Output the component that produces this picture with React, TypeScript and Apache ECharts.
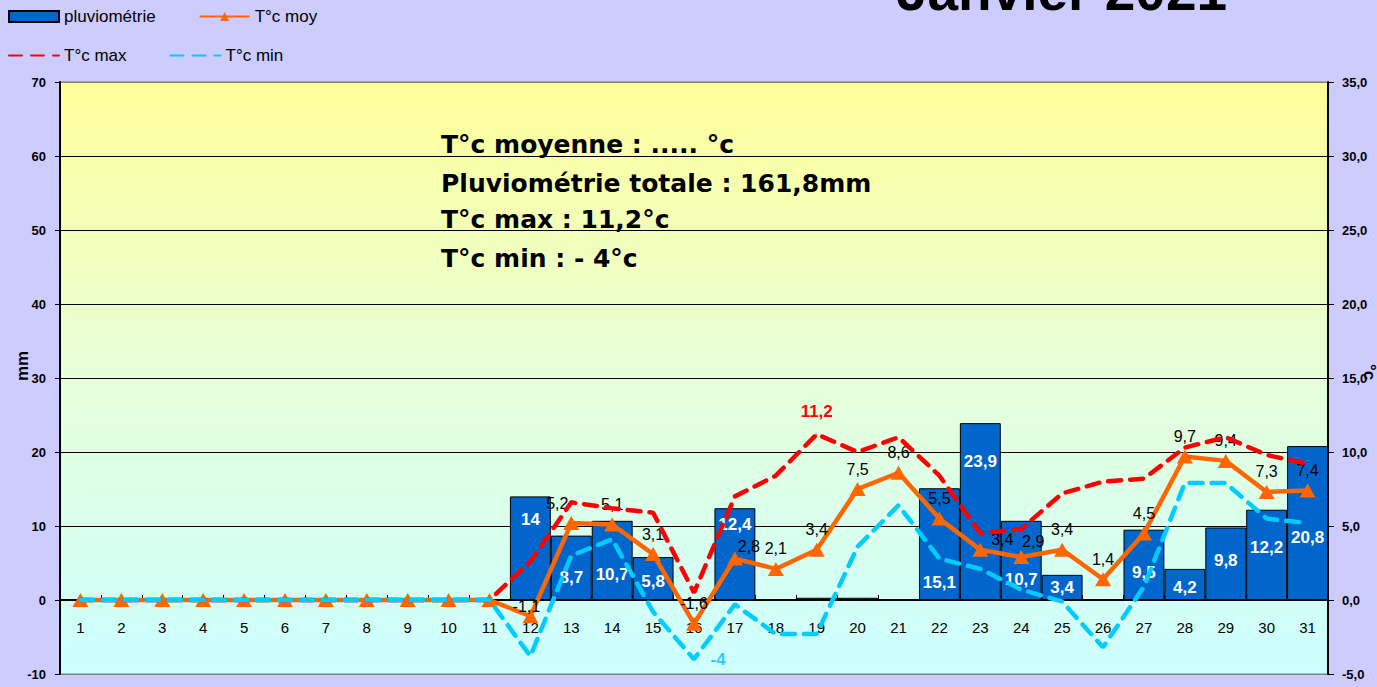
import React, { useEffect, useRef } from "react";
import * as echarts from "echarts";

const days = ["1","2","3","4","5","6","7","8","9","10","11","12","13","14","15","16","17","18","19","20","21","22","23","24","25","26","27","28","29","30","31"];
const rain = [0,0,0,0,0,0,0,0,0,0,0,14,8.7,10.7,5.8,0,12.4,0,0.3,0.3,0,15.1,23.9,10.7,3.4,0,9.5,4.2,9.8,12.2,20.8];
const tMoy = [0,0,0,0,0,0,0,0,0,0,0,-1.1,5.2,5.1,3.1,-1.6,2.8,2.1,3.4,7.5,8.6,5.5,3.4,2.9,3.4,1.4,4.5,9.7,9.4,7.3,7.4];
const tMax = [0,0,0,0,0,0,0,0,0,0,0,2.6,6.6,6.2,5.9,0.5,7.0,8.4,11.2,10.0,11.0,8.4,4.5,4.8,7.2,8.0,8.2,10.3,11.0,9.8,9.2];
const tMin = [0,0,0,0,0,0,0,0,0,0,0,-3.8,3.0,4.1,-0.8,-4.0,-0.3,-2.3,-2.3,3.6,6.4,2.8,2.1,0.7,-0.1,-3.2,0.9,7.9,7.9,5.5,5.2];
const mmTicks = { min: -10, max: 70, interval: 10 };
const degTicks = { min: -5, max: 35, interval: 5 };
const infoLines = [
  "T°c moyenne : ..... °c",
  "Pluviométrie totale : 161,8mm",
  "T°c max : 11,2°c",
  "T°c min : - 4°c",
];
const title = "Janvier 2021";
const leftAxisName = "mm";
const rightAxisName = "°c";

// label lift (px above bar base) for the rain labels — style only
const rainLabelLift: Record<number, number> = {
  11: 72, 12: 14, 13: 17, 14: 10, 16: 67, 21: 9, 22: 130, 23: 12, 24: 4, 26: 19, 27: 4, 28: 31, 29: 44, 30: 54,
};
// label nudges for the mean-temperature labels — style only
const moyLabelNudge: Record<number, number[]> = {
  11: [-4, 10], 12: [-14, 0], 16: [14, 8], 22: [22, 10], 23: [12, 4],
};

const fmt = (v: number) => String(v).replace(".", ",");
const FONT = "'Liberation Sans', Arial, sans-serif";

const GRID_TOP = 82;
const GRID_BOTTOM = 13;
const CHART_H = 687;

export default function App() {
  const ref = useRef<HTMLDivElement>(null);
  useEffect(() => {
    if (!ref.current) return;
    const chart = echarts.init(ref.current, undefined, { renderer: "svg" });

    const maxIdx = tMax.indexOf(Math.max(...tMax));
    const minIdx = tMin.indexOf(Math.min(...tMin));

    const plotH = CHART_H - GRID_TOP - GRID_BOTTOM;
    const zeroOffset = (plotH * (0 - mmTicks.min)) / (mmTicks.max - mmTicks.min);

    const rainData = rain.map((v, i) =>
      v >= 1
        ? {
            value: v,
            label: {
              show: true,
              position: "insideBottom",
              distance: rainLabelLift[i] ?? 10,
              formatter: fmt(v),
              color: "#fff",
              fontWeight: "bold",
              fontSize: 17,
              fontFamily: FONT,
            },
          }
        : v
    );

    const moyData = tMoy.map((v, i) =>
      i >= 11
        ? {
            value: v,
            label: {
              show: true,
              position: "top",
              distance: 5,
              offset: moyLabelNudge[i] ?? [0, 0],
              formatter: fmt(v),
              color: "#000",
              fontSize: 16,
              fontFamily: FONT,
            },
          }
        : v
    );

    const maxData = tMax.map((v, i) =>
      i === maxIdx
        ? {
            value: v,
            symbol: "circle",
            symbolSize: 1,
            label: {
              show: true,
              position: "top",
              distance: 14,
              formatter: fmt(v),
              color: "#FF0000",
              fontWeight: "bold",
              fontSize: 17,
              fontFamily: FONT,
            },
          }
        : v
    );

    const minData = tMin.map((v, i) =>
      i === minIdx
        ? {
            value: v,
            symbol: "circle",
            symbolSize: 1,
            label: {
              show: true,
              position: "right",
              distance: 16,
              formatter: fmt(v),
              color: "#33CCFF",
              fontWeight: "bold",
              fontSize: 17,
              fontFamily: FONT,
            },
          }
        : v
    );

    const grayBlack = ["#808080", "#000", "#000", "#000", "#000", "#000", "#000", "#000", "#808080"];

    chart.setOption({
      animation: false,
      backgroundColor: "#CCCCFF",
      textStyle: { fontFamily: FONT },
      grid: {
        left: 60,
        right: 49,
        top: GRID_TOP,
        bottom: GRID_BOTTOM,
        containLabel: false,
        outerBoundsMode: "none",
        show: true,
        backgroundColor: new echarts.graphic.LinearGradient(0, 0, 0, 1, [
          { offset: 0, color: "#FFFF99" },
          { offset: 0.5, color: "#E6FFD9" },
          { offset: 1, color: "#CCFFFF" },
        ]),
        borderColor: "#808080",
        borderWidth: 1,
      },
      legend: [
        {
          left: 8,
          top: 8,
          padding: 0,
          itemWidth: 50,
          itemHeight: 11,
          itemGap: 43,
          selectedMode: false,
          textStyle: { fontSize: 17, color: "#000", width: 110, fontFamily: FONT },
          data: [{ name: "pluviométrie", icon: "rect" }, "T°c moy"],
        },
        {
          left: 8,
          top: 47,
          padding: 0,
          itemWidth: 50,
          itemHeight: 10,
          itemGap: 43,
          selectedMode: false,
          textStyle: { fontSize: 17, color: "#000", width: 110, fontFamily: FONT },
          data: [
            { name: "T°c max", itemStyle: { opacity: 0 } },
            { name: "T°c min", itemStyle: { opacity: 0 } },
          ],
        },
      ],
      xAxis: {
        type: "category",
        data: days,
        boundaryGap: true,
        offset: -zeroOffset,
        axisLine: { show: true, onZero: false, lineStyle: { color: "#000", width: 2 } },
        axisTick: { show: true, inside: true, length: 5, lineStyle: { color: "#000" } },
        axisLabel: { color: "#000", fontSize: 15, margin: 20, fontFamily: FONT },
        splitLine: { show: false },
      },
      yAxis: [
        {
          type: "value",
          position: "left",
          min: mmTicks.min,
          max: mmTicks.max,
          interval: mmTicks.interval,
          axisLine: { show: true, lineStyle: { color: "#000", width: 2 } },
          axisTick: { show: true, length: 5, lineStyle: { color: "#000" } },
          axisLabel: { color: "#000", fontWeight: "bold", fontSize: 13, margin: 14, fontFamily: FONT },
          splitLine: { show: true, lineStyle: { color: grayBlack, width: 1 } },
        },
        {
          type: "value",
          position: "right",
          min: degTicks.min,
          max: degTicks.max,
          interval: degTicks.interval,
          axisLine: { show: true, lineStyle: { color: "#000", width: 2 } },
          axisTick: { show: true, length: 6, lineStyle: { color: "#000" } },
          axisLabel: {
            color: "#000",
            fontWeight: "bold",
            fontSize: 13,
            margin: 14,
            fontFamily: FONT,
            formatter: (v: number) => v.toFixed(1).replace(".", ","),
          },
          splitLine: { show: false },
        },
      ],
      series: [
        {
          name: "pluviométrie",
          type: "bar",
          yAxisIndex: 0,
          barCategoryGap: "0%",
          itemStyle: { color: "#0066CC", borderColor: "#000", borderWidth: 1 },
          data: rainData,
          z: 2,
        },
        {
          name: "T°c moy",
          type: "line",
          yAxisIndex: 1,
          symbol: "triangle",
          symbolSize: [16, 14],
          itemStyle: { color: "#FF6600" },
          lineStyle: { color: "#FF6600", width: 4.5 },
          data: moyData,
          z: 3,
        },
        {
          name: "T°c max",
          type: "line",
          yAxisIndex: 1,
          symbol: "none",
          itemStyle: { color: "#FF0000" },
          lineStyle: { color: "#FF0000", width: 4.5, type: [13, 9], cap: "round" },
          data: maxData,
          z: 4,
        },
        {
          name: "T°c min",
          type: "line",
          yAxisIndex: 1,
          symbol: "none",
          itemStyle: { color: "#00CCFF" },
          lineStyle: { color: "#00CCFF", width: 4.5, type: [13, 9], cap: "round" },
          data: minData,
          z: 5,
        },
      ],
      graphic: [
        {
          type: "text",
          x: 1062,
          y: -9,
          z: 10,
          style: {
            text: title,
            font: `bold 55px ${FONT}`,
            fill: "#000",
            align: "center",
            verticalAlign: "middle",
          },
        },
        {
          type: "text",
          x: 22,
          y: 366,
          rotation: Math.PI / 2,
          z: 10,
          style: {
            text: leftAxisName,
            font: `bold 17px ${FONT}`,
            fill: "#000",
            align: "center",
            verticalAlign: "middle",
          },
        },
        {
          type: "text",
          x: 1369,
          y: 372,
          rotation: -Math.PI / 2,
          z: 10,
          style: {
            text: rightAxisName,
            font: `bold 17px ${FONT}`,
            fill: "#000",
            align: "center",
            verticalAlign: "middle",
          },
        },
        ...infoLines.map((t, i) => ({
          type: "text",
          x: 441,
          y: [144, 183, 219, 258][i],
          z: 10,
          style: {
            text: t,
            font: "bold 25px 'DejaVu Sans', sans-serif",
            fill: "#000",
            verticalAlign: "middle",
          },
        })),
      ],
    });
    return () => chart.dispose();
  }, []);
  return (
    <div
      ref={ref}
      style={{ position: "absolute", left: 0, top: 0, width: 1377, height: 687, background: "#CCCCFF" }}
    />
  );
}
